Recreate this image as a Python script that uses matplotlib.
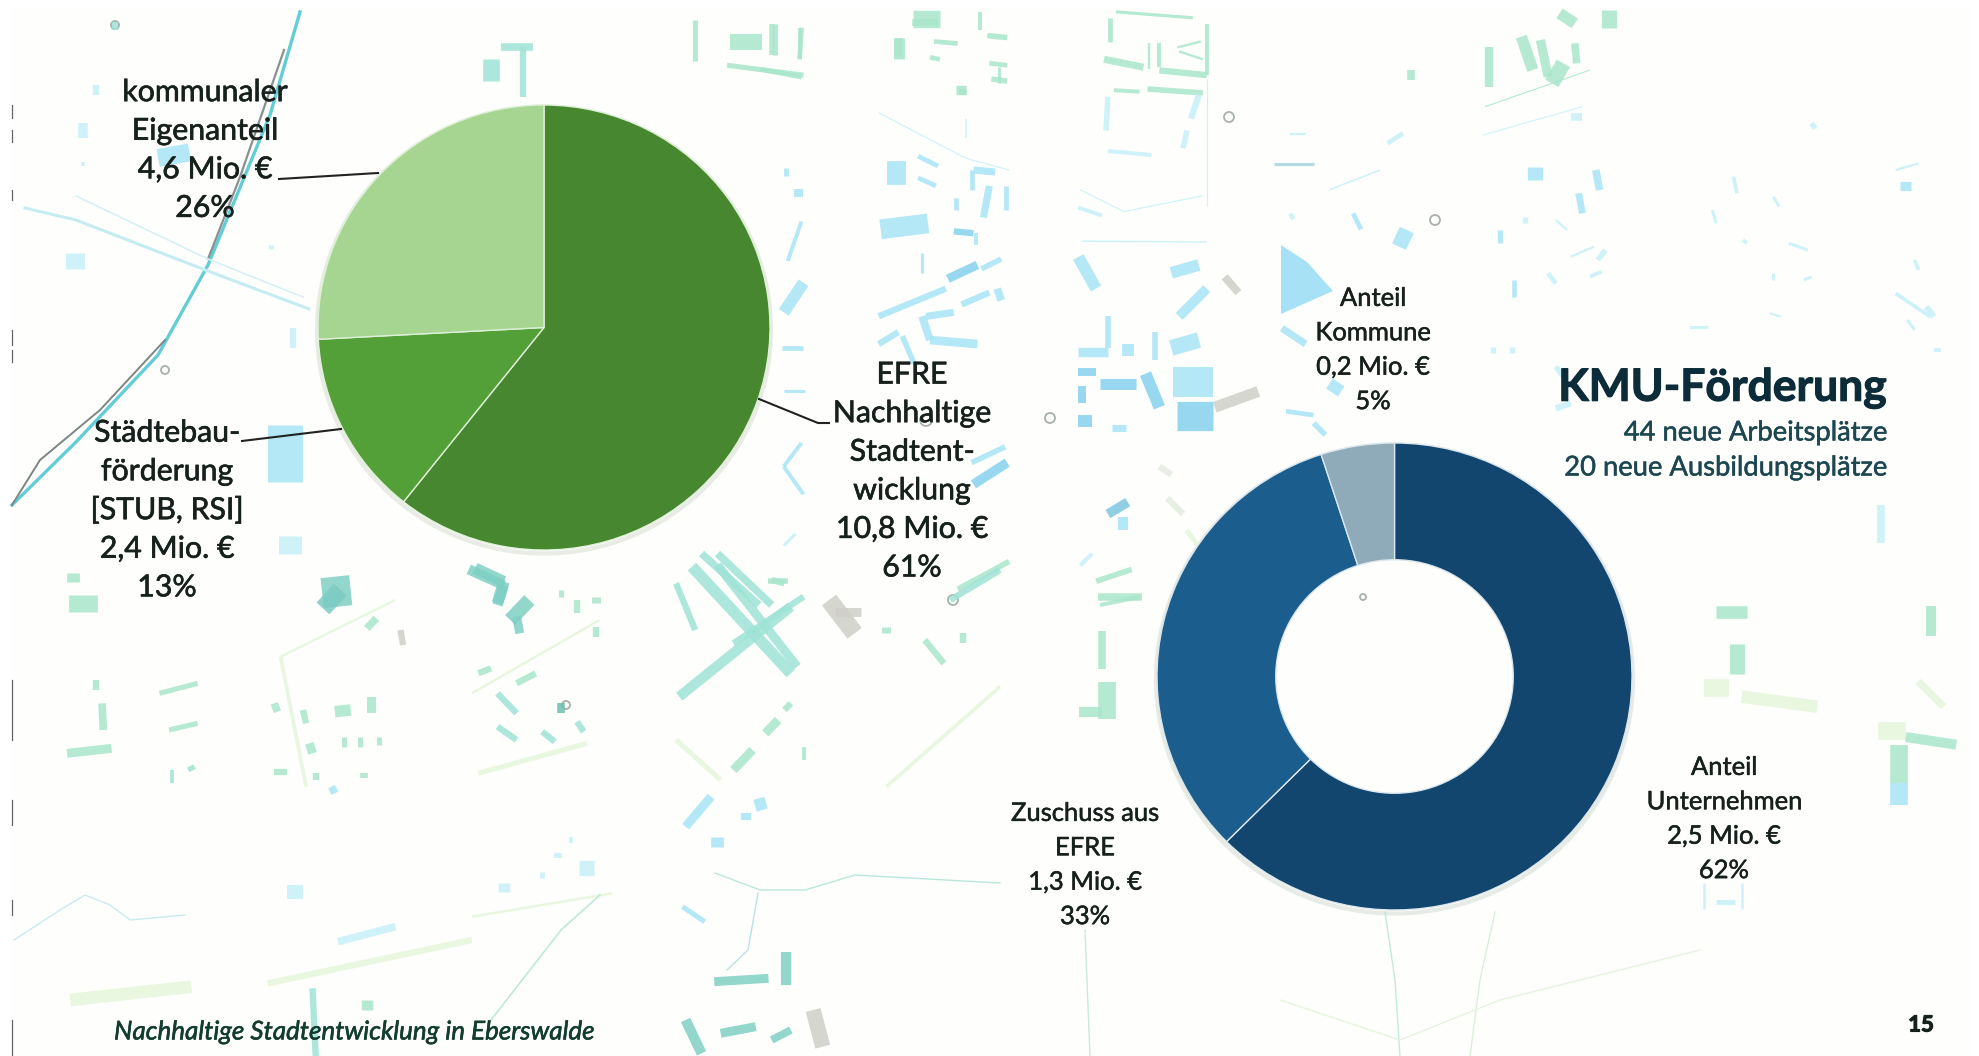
import matplotlib
matplotlib.use("Agg")
import matplotlib.pyplot as plt
import matplotlib.patheffects as pe
from matplotlib.patches import Rectangle, Polygon, Ellipse, Circle

W, H = 1979, 1056
plt.rcParams['font.family'] = ['Lato', 'DejaVu Sans']

# ---- data ----
pie_labels = ["EFRE\nNachhaltige\nStadtent-\nwicklung\n10,8 Mio. €\n61%",
              "Städtebau-\nförderung\n[STUB, RSI]\n2,4 Mio. €\n13%",
              "kommunaler\nEigenanteil\n4,6 Mio. €\n26%"]
pie_values = [10.8, 2.4, 4.6]
pie_colors = ["#47872f", "#539f38", "#a5d591"]

donut_labels = ["Anteil\nUnternehmen\n2,5 Mio. €\n62%",
                "Zuschuss aus\nEFRE\n1,3 Mio. €\n33%",
                "Anteil\nKommune\n0,2 Mio. €\n5%"]
donut_values = [2.5, 1.3, 0.2]
donut_colors = ["#12466f", "#1b5d8d", "#8fabba"]

# ---- decorative map background (not data) ----
B, B2, LB, G, LG, T, TT, GRY = ("#a9e4f5", "#86d0ee", "#c6f0f8", "#a9e6cb", "#e6f6dc",
                                "#9fe3d6", "#7fcfc4", "#cfcfc8")
frame_a = (760, 0, 2.529, 2.529, [
 (30,60,30,140,14,G),(105,70,100,150,12,G),(0,175,105,195,12,G),(387,47,455,47,44,G),(352,95,352,150,28,G),
 (440,105,500,110,12,G),(430,145,455,150,12,G),(557,30,557,75,10,G),(575,90,625,95,14,G),(580,160,625,165,12,G),
 (585,200,625,205,14,G),(605,170,605,210,8,G),(496,228,520,228,24,G),(900,30,1095,45,8,G),(885,45,885,105,12,G),
 (870,150,970,170,18,G),(985,110,985,175,6,G),(1010,110,1010,170,10,G),(1010,178,1130,190,16,G),(1130,60,1130,190,10,G),
 (1055,120,1115,105,6,G),(1060,130,1120,150,6,G),(895,228,960,232,10,G),(980,225,1120,235,14,G),(880,245,875,330,14,LB),
 (1110,240,1090,300,16,LB),(880,382,990,392,10,LB),(1080,330,1070,375,14,LB),(1130,200,1130,520,3,LB),
 (320,437,370,437,60,B),(400,395,450,420,12,B),(400,450,445,470,12,B),(540,430,595,435,18,B),(535,430,535,480,12,B),
 (580,470,565,550,18,B),(622,470,622,530,12,B),(495,500,495,530,12,B),(305,580,425,565,50,B),(490,585,540,590,16,B2),
 (545,590,545,620,10,B),(475,705,550,670,22,B2),(560,680,610,655,14,B),(410,640,410,690,8,B),(300,800,470,730,16,B),
 (410,800,430,860,20,B),(430,860,550,870,22,B),(420,800,490,790,18,B),(510,770,580,740,16,B),(600,730,610,760,20,B),
 (300,870,350,840,16,B),(360,850,390,920,14,B),(65,425,65,445,12,B),(85,487,110,487,20,B),(70,660,105,560,10,B),
 (60,790,110,715,30,B),(55,880,110,880,12,B),(60,990,115,990,8,B),(60,1180,110,1250,10,B),(60,1180,105,1120,10,B),
 (540,1225,625,1170,24,B2),(535,1170,620,1130,14,B),(805,650,850,730,30,B),(805,940,850,940,20,B2),(860,970,950,970,28,B2),
 (975,945,1010,1030,30,B2),(1045,965,1145,965,76,B),(1055,1052,1145,1052,74,B2),(815,975,815,1020,20,B2),(805,1065,840,1065,30,B2),
 (890,1082,925,1082,18,B),(805,890,880,890,24,B),(880,800,880,880,14,B),(930,870,930,900,30,B),(1000,840,1000,910,14,B),
 (1040,880,1110,860,40,B),(1060,800,1130,730,25,B),(1150,1030,1260,990,28,GRY),(1175,700,1210,740,20,GRY),
 (1320,830,1380,870,18,B),(1440,970,1470,990,30,B),(1330,1040,1400,1050,12,B),(1400,1070,1430,1100,14,B),
 (880,1300,930,1270,24,"#7cc6df"),(850,1470,940,1440,14,G),(860,1530,960,1510,10,G),(500,1490,630,1420,14,G),
 (20,1470,70,1470,14,G),(1300,415,1400,415,8,"#a7d4dc"),(1440,480,1568,430,4,LB),(1040,690,1110,670,30,B),
 (805,525,865,545,10,LB),(815,610,1130,612,4,LB),(810,480,920,535,3,LB),(920,535,1120,495,3,LB),(300,285,520,400,3,LB),
 (520,400,630,430,3,LB),(520,300,520,350,4,LB),(1340,340,1380,340,6,LB),(1350,545,1340,550,16,LB),(1500,540,1520,580,12,B),
 (60,1380,90,1350,8,LB),(810,1430,840,1400,10,LB),(1030,1260,1070,1300,16,"#e4ece0"),(1010,1180,1040,1200,16,"#e4ece0"),
])
frame_b = (1380, 0, 2.618, 3.0, [
 (285,140,285,260,22,G),(370,110,400,210,30,G),(420,120,440,230,24,G),(480,190,450,250,40,G),(470,40,510,70,30,G),
 (600,30,600,85,40,G),(510,130,515,190,20,G),(80,210,80,240,20,G),(275,320,550,210,3,G),(500,350,530,350,20,LB),
 (270,405,530,320,3,LB),(405,500,405,540,40,B),(565,510,575,570,20,B),(520,580,530,640,18,B),(70,690,50,740,40,B),
 (315,690,315,730,14,B),(590,750,570,780,14,LB),(580,815,550,830,10,LB),(350,840,350,890,12,B),(440,820,460,850,12,LB),
 (925,530,935,580,10,LB),(870,630,880,670,8,LB),(1030,590,1045,620,8,LB),(1362,558,1390,558,24,B),(1130,830,1110,840,8,LB),
 (1350,880,1440,950,10,LB),(1400,780,1410,810,10,LB),(1030,820,1030,840,8,LB),(1020,940,1050,950,6,LB),(810,980,860,980,8,LB),
 (295,1040,295,1060,14,LB),(345,1040,345,1060,14,LB),(460,1100,480,1130,14,LB),(460,1225,500,1210,16,LB),(1450,1050,1470,1050,10,LB),
 (460,660,490,690,6,LB),(380,650,380,670,14,LB),(1130,370,1140,385,14,LB),(1430,920,1450,950,16,LB),(1380,960,1400,990,8,LB),
 (950,720,960,730,10,LB),(1070,730,1120,750,8,LB),(1350,510,1410,490,6,LB),(500,770,560,740,6,LB),(20,430,60,400,12,LB),
])
frame_c = (0, 540, 1.568, 3.0, [
 (115,100,115,125,20,G),(130,165,130,215,45,G),(590,235,575,265,12,G),(628,270,632,315,10,GRY),(525,110,530,200,45,TT),
 (745,85,790,125,18,TT),(790,125,780,190,18,TT),(830,180,800,240,22,TT),(810,230,815,280,14,TT),(1085,80,1240,400,18,T),
 (1125,75,1250,380,14,T),(1065,470,1240,200,16,T),(1150,310,1260,170,10,T),(1060,130,1090,270,10,T),(1300,180,1340,280,28,GRY),
 (1310,215,1350,215,14,GRY),(250,460,310,430,8,G),(265,570,310,550,8,G),(105,640,175,625,14,G),(160,490,162,570,12,G),
 (150,420,150,450,10,G),(270,690,270,730,6,T),(295,690,305,680,8,T),(430,490,435,515,12,G),(475,510,480,550,10,G),
 (525,515,550,510,18,G),(575,495,590,495,25,G),(485,610,490,640,14,G),(540,590,540,620,8,G),(565,590,565,620,8,G),
 (595,590,595,615,8,G),(430,695,450,695,10,G),(495,700,495,720,10,G),(570,700,570,715,12,G),(520,740,525,760,12,B),
 (780,460,810,520,10,T),(780,560,810,600,10,T),(850,575,870,605,10,T),(905,545,915,575,10,T),(880,490,880,520,12,"#6fbfb0"),
 (750,400,770,385,10,G),(810,430,840,400,10,G),(1150,690,1180,630,14,G),(1200,580,1220,540,14,G),(1230,510,1240,490,10,G),
 (1075,860,1115,770,14,B),(1125,890,1125,920,20,B),(1190,775,1195,810,18,B),(1170,820,1170,840,16,B),(1070,1100,1105,1145,8,B),
 (790,1030,790,1055,18,LB),(850,995,850,1015,8,LB),(908,985,932,985,24,LB),(875,940,875,955,12,LB),(895,890,895,910,6,LB),
 (450,1055,475,1055,22,LB),(530,1205,620,1160,12,LB),(1120,1325,1205,1315,14,TT),(1232,1235,1232,1335,16,TT),(1075,1440,1100,1540,16,TT),
 (1130,1480,1185,1460,14,TT),(1210,1500,1240,1470,12,TT),(1275,1410,1290,1520,24,GRY),(490,1345,495,1548,10,T),(575,1380,575,1410,18,G),
 (1490,180,1568,90,10,T),(1390,260,1390,280,14,G),(1450,300,1480,370,10,G),(1510,280,1510,310,10,G),(1260,620,1260,660,6,G),
 (1210,120,1230,130,10,G),(905,180,905,220,10,G),(935,170,935,190,14,G),(935,260,935,290,10,G),(880,150,880,170,8,G),
 (740,1130,960,1060,4,LG),(420,1330,740,1200,10,LG),(110,1380,300,1340,20,LG),(440,350,620,180,4,LG),(440,350,480,740,6,LG),
 (1060,600,1130,720,8,LG),(740,460,940,240,4,LG),(750,700,920,610,8,LG),(1390,740,1568,440,6,LG),
])
frame_e = (0, 0, 1.568, 2.529, [
 (270,370,275,415,50,B),(130,310,130,350,15,LB),(150,215,150,240,10,LB),(130,410,130,420,6,LB),(118,640,118,680,30,LB),
 (425,620,425,630,8,LB),(460,830,460,880,10,LB),(447,1075,447,1220,55,B),(455,1355,455,1400,36,LB),(820,120,820,245,10,T),
 (785,120,835,120,12,T),(770,150,770,205,26,T),(1145,105,1195,105,25,G),(1215,60,1215,140,8,G),(1255,70,1255,150,6,G),
 (1140,165,1260,190,8,G),(1090,50,1090,155,8,G),(1450,47,1450,65,40,G),(1410,95,1410,145,12,G),(1510,225,1510,240,12,G),
 (180,55,180,75,10,T),(1100,1400,1190,1530,12,T),(1125,1400,1210,1530,12,T),(510,1500,530,1530,40,"#7ccbc4"),
 (735,1440,790,1480,16,TT),(790,1480,780,1530,16,TT),
])
frame_s = (0, 0, 1568 / 1979, 1568 / 1979, [
 (1360,485,1384,485,10,G),(1376,510,1376,534,12,G),(1350,545,1370,545,14,LG),(1380,552,1440,560,10,LG),(1488,579,1510,579,14,LG),
 (1510,584,1550,590,8,G),(1505,590,1505,620,14,G),(1505,620,1505,638,14,B),(870,473,905,473,6,G),(873,500,873,530,6,G),
 (877,540,877,570,14,G),(855,564,873,564,8,G),(890,410,890,420,8,B),(940,420,955,440,4,LG),(1490,400,1490,430,6,LB),
 (1530,480,1530,504,8,G),(1520,540,1540,560,6,LG),(1360,715,1375,715,4,LB),(1350,700,1350,720,2,LB),(1380,700,1380,720,2,LB),
])
map_curves = [
 ([(300,12),(270,115),(208,265),(158,355),(76,442),(12,505)], "#63cdd6", 2.4),
 ([(284,50),(240,177),(208,259)], "#8a9090", 1.6),
 ([(165,340),(100,410),(40,460),(12,505)], "#7d8585", 1.4),
 ([(25,208),(76,220),(208,271),(309,309)], "#c5ecf0", 2.2),
 ([(76,196),(208,259),(303,297)], "#d6f0f4", 1.2),
 ([(14,940),(60,910),(85,895),(110,905),(130,920),(185,915)], "#c9eaf0", 1.0),
 ([(715,873),(760,890),(805,890),(855,875),(1000,883)], "#b9e6dc", 1.0),
 ([(758,893),(748,950),(727,970)], "#b9e2e4", 1.0),
 ([(600,895),(561,930),(491,1020)], "#bfe9d6", 1.2),
 ([(1385,912),(1395,980),(1400,1056)], "#bfeadf", 1.0),
 ([(1495,912),(1480,980),(1470,1056)], "#dbeedb", 1.0),
 ([(1085,930),(1090,1056)], "#c8eada", 1.0),
 ([(1280,1000),(1400,1040),(1500,1000),(1700,950)], "#e6f4e0", 1.0),
]
map_rings = [(1229,117,5),(1435,220,5),(115,25,4),(926,420,6),(1050,418,5),(1363,597,3),(504,265,4),(165,370,4),(953,600,5),(566,705,4)]
edge_ticks = [(105,118),(130,142),(190,200),(330,345),(350,362),(680,740),(800,825),(900,915),(1020,1056)]

fig = plt.figure(figsize=(W / 100, H / 100), dpi=100, facecolor="white")
bg = fig.add_axes([0, 0, 1, 1], zorder=0)
bg.set_xlim(0, W); bg.set_ylim(H, 0); bg.axis("off")
bg.add_patch(Rectangle((11, 7), 1959, 1049, fc="#fefffd", ec="none"))
for ox, oy, sx, sy, items in (frame_a, frame_b, frame_c, frame_e, frame_s):
    for x1, y1, x2, y2, w, c in items:
        bg.plot([ox + x1 / sx, ox + x2 / sx], [oy + y1 / sy, oy + y2 / sy], color=c,
                lw=w / sx * 0.72, solid_capstyle="butt", alpha=0.85)
bg.add_patch(Polygon([(1281, 245), (1307, 262), (1333, 291), (1281, 314)], fc="#a6e1f5", ec="none"))
for pts, c, lw in map_curves:
    bg.plot(*zip(*pts), color=c, lw=lw)
for x, y, r in map_rings:
    bg.add_patch(Circle((x, y), r, fc="none", ec="#a8b0aa", lw=1.3))
for y0, y1 in edge_ticks:
    bg.plot([12, 12], [y0, y1], color="#666666", lw=0.9)
# soft rim shadow under the two charts
bg.add_patch(Ellipse((544, 330), 454, 447, fc="none", ec="#e8ece4", lw=3))
bg.add_patch(Ellipse((1394.5, 679), 477, 469, fc="none", ec="#e6ebe6", lw=3))

def make_axes(cx, cy, rx, ry):
    return fig.add_axes([(cx - rx) / W, 1 - (cy + ry) / H, 2 * rx / W, 2 * ry / H], zorder=2)

ax1 = make_axes(544, 327.5, 226, 222.5)
ax1.pie(pie_values, colors=pie_colors, startangle=90, counterclock=False, radius=1,
        wedgeprops=dict(edgecolor="#dff0d8", linewidth=1.0))
ax1.set_aspect("auto"); ax1.set_xlim(-1, 1); ax1.set_ylim(-1, 1)

ax2 = make_axes(1394.5, 676.5, 237.5, 233.5)
ax2.pie(donut_values, colors=donut_colors, startangle=90, counterclock=False, radius=1,
        wedgeprops=dict(width=0.5, edgecolor="#dbe6ec", linewidth=1.0))
ax2.set_aspect("auto"); ax2.set_xlim(-1, 1); ax2.set_ylim(-1, 1)

ov = fig.add_axes([0, 0, 1, 1], zorder=3)
ov.set_xlim(0, W); ov.set_ylim(H, 0); ov.axis("off")
TXT = "#16201c"
def thick(c, lw=0.45):
    return [pe.withStroke(linewidth=lw, foreground=c)]
big = dict(ha="center", va="center", color=TXT, fontsize=21.8, linespacing=1.46, path_effects=thick(TXT))
ov.text(912, 471, pie_labels[0], **big)
ov.text(167, 510, pie_labels[1], **big)
ov.text(205, 150, pie_labels[2], **big)
small = dict(ha="center", va="center", color=TXT, fontsize=18.4, linespacing=1.47, path_effects=thick(TXT, 0.35))
ov.text(1724, 819, donut_labels[0], **small)
ov.text(1085, 865, donut_labels[1], **small)
ov.text(1373, 350, donut_labels[2], **small)
ov.plot([279, 378], [179, 173], color="#222", lw=1.5)
ov.plot([242, 341], [441, 429], color="#222", lw=1.5)
ov.plot([759, 818, 829], [399, 423, 423], color="#222", lw=1.5)
ov.text(1887, 388, "KMU-Förderung", ha="right", va="center", color="#0b2c38", fontsize=32,
        fontweight="bold", path_effects=thick("#0b2c38", 0.8))
ov.text(1887, 433, "44 neue Arbeitsplätze", ha="right", va="center", color="#1c4650", fontsize=19.7,
        path_effects=thick("#1c4650", 0.35))
ov.text(1887, 468, "20 neue Ausbildungsplätze", ha="right", va="center", color="#1c4650", fontsize=19.7,
        path_effects=thick("#1c4650", 0.35))
ov.text(114, 1032, "Nachhaltige Stadtentwicklung in Eberswalde", ha="left", va="center",
        color="#123c30", fontsize=18.7, fontstyle="italic", path_effects=thick("#123c30", 0.4))
ov.text(1921, 1025, "15", ha="center", va="center", color="#16201c", fontsize=16, fontweight="bold",
        path_effects=thick("#16201c", 0.8))

fig.savefig("out.png", dpi=100)
